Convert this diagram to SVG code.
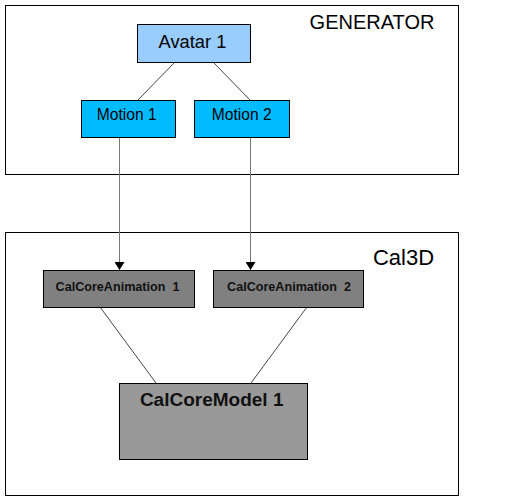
<svg xmlns="http://www.w3.org/2000/svg" width="524" height="502" viewBox="0 0 524 502">
<defs>
<style>
.frame{fill:#fff;stroke:#000;stroke-width:1}
.node{stroke:#000;stroke-width:1}
.t{font-family:"Liberation Sans",Arial,sans-serif;fill:#000;text-anchor:middle}
.b{font-weight:bold;fill:#111}
.conn{stroke:#444;stroke-width:1;fill:none}
.vconn{stroke:#777;stroke-width:1;fill:none}
</style>
<marker id="arr" viewBox="0 0 8 10" refX="8" refY="5" markerWidth="8" markerHeight="10" markerUnits="userSpaceOnUse" orient="auto">
<path d="M0,0 L8,5 L0,10 z" fill="#000"/>
</marker>
</defs>
<rect width="524" height="502" fill="#fff"/>
<g id="generator">
<rect class="frame" x="5.5" y="5.5" width="453" height="169"/>
<text class="t" x="372" y="29" font-size="20">GENERATOR</text>
</g>
<g id="cal3d">
<rect class="frame" x="5.5" y="232.5" width="453" height="263"/>
<text class="t" x="403.5" y="265" font-size="22">Cal3D</text>
</g>
<g id="connectors">
<line class="conn" x1="175" y1="62" x2="138" y2="100"/>
<line class="conn" x1="213" y1="62" x2="250" y2="100"/>
<line class="vconn" x1="119.5" y1="137" x2="119.5" y2="270" marker-end="url(#arr)"/>
<line class="vconn" x1="250.5" y1="137" x2="250.5" y2="270" marker-end="url(#arr)"/>
<line class="conn" x1="100" y1="307" x2="156" y2="383"/>
<line class="conn" x1="307" y1="307" x2="251" y2="383"/>
</g>
<g id="avatar1">
<rect class="node" x="137.5" y="24.5" width="113" height="38" fill="#99CCFF"/>
<text class="t" x="192.5" y="48" font-size="18.3">Avatar 1</text>
</g>
<g id="motion1">
<rect class="node" x="81.5" y="100.5" width="94" height="37" fill="#00BBFF"/>
<text class="t" x="126.7" y="120" font-size="15.6">Motion 1</text>
</g>
<g id="motion2">
<rect class="node" x="194.5" y="100.5" width="95" height="37" fill="#00BBFF"/>
<text class="t" x="241.7" y="120" font-size="15.6">Motion 2</text>
</g>
<g id="anim1">
<rect class="node" x="43.5" y="270.5" width="151" height="37" fill="#808080"/>
<text class="t b" x="117.5" y="291" font-size="12.6" xml:space="preserve">CalCoreAnimation  1</text>
</g>
<g id="anim2">
<rect class="node" x="213.5" y="270.5" width="150" height="37" fill="#808080"/>
<text class="t b" x="289" y="291" font-size="12.6" xml:space="preserve">CalCoreAnimation  2</text>
</g>
<g id="model1">
<rect class="node" x="119.5" y="383.5" width="188" height="76" fill="#999999"/>
<text class="t b" x="211.7" y="406" font-size="19">CalCoreModel 1</text>
</g>
</svg>
